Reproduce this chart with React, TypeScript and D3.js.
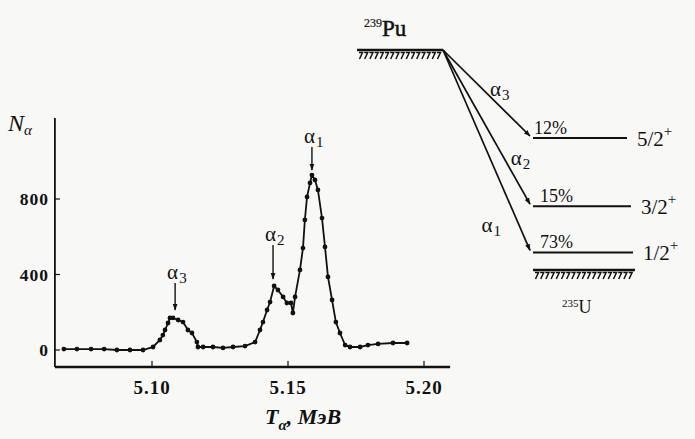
import React from 'react';
import * as d3 from 'd3';

// alpha spectrum of 239Pu
const energyMeV = [5.0676, 5.0724, 5.0776, 5.0824, 5.0871, 5.0919, 5.0967, 5.1004, 5.1029, 5.104, 5.1048, 5.1059, 5.1066, 5.1077, 5.1096, 5.1114, 5.1132, 5.1147, 5.1165, 5.1169, 5.1188, 5.1224, 5.1261, 5.1298, 5.1342, 5.1379, 5.1397, 5.1408, 5.1423, 5.1434, 5.1449, 5.1463, 5.1482, 5.1496, 5.1511, 5.1518, 5.1526, 5.1544, 5.1555, 5.1562, 5.157, 5.1581, 5.1588, 5.1599, 5.161, 5.1625, 5.1636, 5.1647, 5.1662, 5.1676, 5.1691, 5.171, 5.1728, 5.1765, 5.1794, 5.1831, 5.1886, 5.1938];
const counts = [5, 5, 5, 5, 0, 0, 0, 16, 53, 79, 106, 143, 170, 170, 159, 148, 106, 90, 42, 16, 16, 16, 11, 16, 21, 42, 106, 148, 212, 254, 339, 318, 281, 249, 249, 196, 281, 424, 540, 689, 811, 885, 927, 901, 848, 699, 546, 387, 265, 148, 90, 26, 16, 16, 26, 32, 37, 37];

const xTicks = [5.1, 5.15, 5.2];
const yTicks = [0, 400, 800];

// peak markers: alpha index, arrow energy, arrow top / tip (in counts)
const peakIndex = ['3', '2', '1'];
const peakArrowE = [5.1085, 5.1445, 5.1588];
const peakArrowTop = [355, 556, 1075];
const peakArrowTip = [212, 376, 954];

// decay scheme: daughter levels of 235U
const levelSpin = ['5/2', '3/2', '1/2'];
const levelHeight = [0.6, 0.29, 0.08];
const levelPercent = ['12%', '15%', '73%'];
const levelAlpha = ['3', '2', '1'];
const parentHeight = 1;
const groundHeight = 0;

const W = 695;
const H = 439;
const serif = '"Liberation Serif", "DejaVu Serif", serif';

export default function App() {
  const x = d3.scaleLinear().domain([5.1, 5.2]).range([152, 424]);
  const y = d3.scaleLinear().domain([0, 800]).range([350, 199]);
  const line = d3.line<number>().x((_, i) => x(energyMeV[i])).y((d) => y(d));

  const xMin = x(5.0643);
  const xMax = x(5.2096);
  const yBot = y(-90);
  const yTop = y(1229);

  // scheme geometry
  const ly = d3.scaleLinear().domain([0, 1]).range([270, 50]);
  const pX0 = 357, pX1 = 443;
  const cX0 = 533, cX1 = [627, 631, 633];

  const hatch = (x0: number, x1: number, yy: number) =>
    d3.range(x0 + 3, x1 - 1, 5.2).map((hx, i) => (
      <path key={i} d={`M${hx - 1},${yy + 2.5}h3.5l-3,6.5`} fill="none" stroke="#111" strokeWidth={1.5} />
    ));

  const labelT = [0.47, 0.71, 0.88];
  const labelDx = [6, 6, -38];

  return (
    <svg width={W} height={H} style={{ position: 'absolute', left: 0, top: 0, background: '#f8f8f6' }}>
      <defs>
        <marker id="ah" viewBox="0 0 10 10" refX="9" refY="5" markerWidth="7" markerHeight="7" orient="auto-start-reverse" markerUnits="userSpaceOnUse">
          <path d="M0,1.5 L10,5 L0,8.5 Z" fill="#111" />
        </marker>
      </defs>

      {/* axes */}
      <line x1={xMin} y1={yTop} x2={xMin} y2={yBot} stroke="#111" strokeWidth={1.8} />
      <line x1={xMin} y1={yBot} x2={xMax} y2={yBot} stroke="#111" strokeWidth={2.6} />
      {yTicks.map((t) => (
        <g key={t}>
          <line x1={xMin} x2={xMin + 5} y1={y(t)} y2={y(t)} stroke="#111" strokeWidth={1.2} />
          <text x={xMin - 6} y={y(t) + 6} textAnchor="end" fontFamily={serif} fontWeight="bold" fontSize={17.5} letterSpacing={1} fill="#111">{t}</text>
        </g>
      ))}
      {xTicks.map((t) => (
        <g key={t}>
          <line x1={x(t)} x2={x(t)} y1={yBot} y2={yBot - 6} stroke="#111" strokeWidth={1.2} />
          <text x={x(t)} y={yBot + 27} textAnchor="middle" fontFamily={serif} fontWeight="bold" fontSize={19} letterSpacing={1} fill="#111">{t.toFixed(2)}</text>
        </g>
      ))}
      <text x={8} y={131} fontFamily={serif} fontStyle="italic" fontSize={24} fill="#111">
        N<tspan fontSize={15} dy={4}>α</tspan>
      </text>
      <text x={265} y={424} fontFamily={serif} fontStyle="italic" fontWeight="bold" fontSize={22} fill="#111">
        T<tspan fontSize={15} dy={6}>α</tspan><tspan dy={-6}>, МэВ</tspan>
      </text>

      {/* spectrum */}
      <path d={line(counts) ?? ''} fill="none" stroke="#111" strokeWidth={1.8} />
      {counts.map((c, i) => (
        <circle key={i} cx={x(energyMeV[i])} cy={y(c)} r={2.4} fill="#111" />
      ))}

      {/* peak labels */}
      {peakIndex.map((p, i) => (
        <g key={p}>
          <line x1={x(peakArrowE[i])} x2={x(peakArrowE[i])} y1={y(peakArrowTop[i])} y2={y(peakArrowTip[i])} stroke="#111" strokeWidth={1.4} markerEnd="url(#ah)" />
          <text x={x(peakArrowE[i]) - 8} y={y(peakArrowTop[i]) - 4} fontFamily={serif} fontSize={21} fill="#111">
            α<tspan fontSize={15} dy={4} dx={1}>{p}</tspan>
          </text>
        </g>
      ))}

      {/* decay scheme */}
      <text x={364} y={36} fontFamily={serif} fontSize={23} stroke="#111" strokeWidth={0.5} fill="#111">
        <tspan fontSize={12} strokeWidth={0.2} dy={-9}>239</tspan><tspan dy={9}>Pu</tspan>
      </text>
      <line x1={pX0} x2={pX1} y1={ly(parentHeight)} y2={ly(parentHeight)} stroke="#111" strokeWidth={2.4} />
      {hatch(pX0, pX1, ly(parentHeight))}

      {levelSpin.map((s, i) => {
        const yy = ly(levelHeight[i]);
        const sx = pX1, sy = ly(parentHeight);
        const ex = cX0 - 3, ey = yy - 2;
        const t = labelT[i];
        const lx = sx + (ex - sx) * t + labelDx[i];
        const lyy = sy + (ey - sy) * t + 6;
        return (
          <g key={s}>
            <line x1={sx} y1={sy} x2={ex} y2={ey} stroke="#111" strokeWidth={1.7} markerEnd="url(#ah)" />
            <line x1={cX0} x2={cX1[i]} y1={yy} y2={yy} stroke="#111" strokeWidth={2} />
            <text x={cX0 + (i === 0 ? 1 : 7)} y={yy - 4} fontFamily={serif} fontSize={18} fill="#111">{levelPercent[i]}</text>
            <text x={cX1[i] + 10} y={yy + 8} fontFamily={serif} fontSize={21} fill="#111">
              {s}<tspan fontSize={15} dy={-10}>+</tspan>
            </text>
            <text x={lx} y={lyy} fontFamily={serif} fontSize={21} fill="#111">
              α<tspan fontSize={15} dy={4} dx={1}>{levelAlpha[i]}</tspan>
            </text>
          </g>
        );
      })}

      <line x1={cX0} x2={635} y1={ly(groundHeight)} y2={ly(groundHeight)} stroke="#111" strokeWidth={2.4} />
      {hatch(cX0, 635, ly(groundHeight))}
      <text x={562} y={313} fontFamily={serif} fontSize={18} fill="#111">
        <tspan fontSize={11} dy={-6}>235</tspan><tspan dy={6}>U</tspan>
      </text>
    </svg>
  );
}
